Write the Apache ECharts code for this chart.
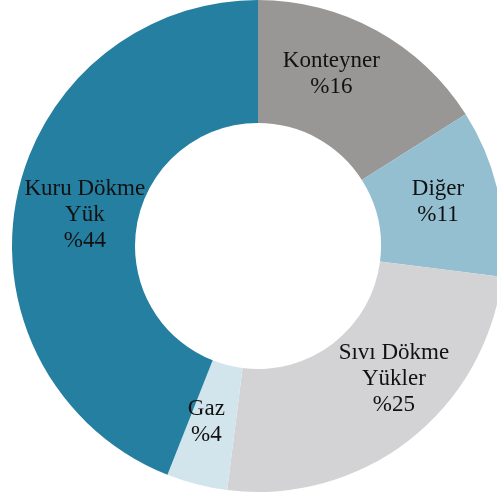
<!DOCTYPE html>
<html><head><meta charset="utf-8">
<script src="https://cdn.jsdelivr.net/npm/echarts@6/dist/echarts.min.js"></script>
<style>html,body{margin:0;padding:0;background:#fff}#c{width:497px;height:497px}</style>
</head><body><div id="c"></div>
<script>
const categories = ['Konteyner', 'Diğer', 'Sıvı Dökme\nYükler', 'Gaz', 'Kuru Dökme\nYük'];
const values = [16, 11, 25, 4, 44];
const colors = ['#999795', '#93bfd0', '#d3d3d5', '#d3e5ec', '#257fa0'];
const labelOffsets = [[-17, -8], [-3, -3], [21, -15], [-5, -6], [11, 4]];

const chart = echarts.init(document.getElementById('c'), null, {renderer: 'canvas'});
chart.setOption({
  animation: false,
  series: [{
    type: 'pie',
    center: [258, 246],
    radius: [123, 246],
    startAngle: 90,
    clockwise: true,
    avoidLabelOverlap: false,
    label: {
      show: true,
      position: 'inside',
      formatter: p => p.name + '\n%' + p.value,
      fontFamily: 'Liberation Serif, DejaVu Serif, serif',
      fontSize: 23,
      lineHeight: 26,
      color: '#111',
      align: 'center'
    },
    labelLine: {show: false},
    emphasis: {disabled: true},
    data: categories.map((c, i) => ({
      name: c, value: values[i],
      itemStyle: {color: colors[i]},
      label: {offset: labelOffsets[i]}
    }))
  }]
});
</script></body></html>
